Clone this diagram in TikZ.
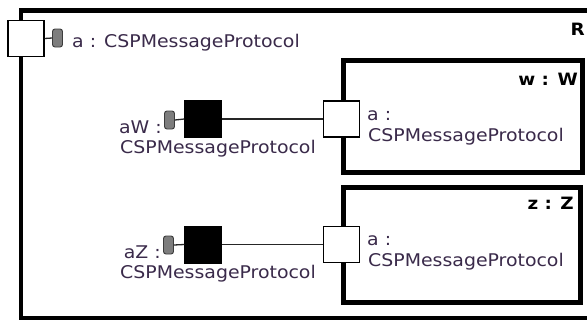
\documentclass[tikz,border=0pt]{standalone}
\usepackage{fontspec}
\setmainfont[FakeStretch=1.08]{DejaVu Sans}
\definecolor{txtc}{RGB}{58,42,74}
\definecolor{ifgray}{RGB}{125,125,125}
\definecolor{ifedge}{RGB}{60,60,60}
\begin{document}
\begin{tikzpicture}[x=1pt,y=-1pt,
  lbl/.style={inner sep=0pt,text=txtc,font=\fontsize{17.5}{21}\selectfont},
  title/.style={inner sep=0pt,text=black,font=\fontsize{17}{20}\selectfont\bfseries},
  part/.style={draw=black,line width=5pt,fill=white,inner sep=0pt},
  port/.style={draw=black,line width=1.1pt,fill=white,inner sep=0pt,minimum size=36pt},
  relay/.style={draw=black,fill=black,inner sep=0pt,minimum size=37pt},
  iface/.style={draw=ifedge,line width=0.9pt,fill=ifgray,rounded corners=2.5pt,
                inner sep=0pt,minimum width=10pt,minimum height=18pt},
  wire/.style={draw=black!85,line width=1.3pt}]
\useasboundingbox[fill=white] (0,0) rectangle (587,322);

% enclosing structure R (open to the right)
\draw[line width=4.5pt] (590,10.5) -- (21,10.5) -- (21,318) -- (590,318);
\node[title,anchor=base east] (rname) at (585,35) {R};

% parts w and z
\node[part,minimum width=239pt,minimum height=111.5pt] (partw) at (462.5,116.25) {};
\node[part,minimum width=237pt,minimum height=115pt] (partz) at (461.5,245) {};
\node[title,anchor=base east] (wname) at (578,85) {w : W};
\node[title,anchor=base east] (zname) at (574,209) {z : Z};

% boundary port a of R
\node[port] (pa) at (26,38.5) {};
\node[iface] (ia) at (57.5,38) {};
\draw[wire] (pa.east) -- (ia.west);
\node[lbl,anchor=base west] (la) at (72,47) {a : CSPMessageProtocol};

% ports of w and z
\node[port] (pw) at (341.5,119) {};
\node[port] (pz) at (341.5,244.5) {};
\node[lbl,anchor=base west] (lpw1) at (367,120) {a :};
\node[lbl,anchor=base west] (lpw2) at (368,141) {CSPMessageProtocol};
\node[lbl,anchor=base west] (lpz1) at (367,245) {a :};
\node[lbl,anchor=base west] (lpz2) at (368,266) {CSPMessageProtocol};

% relay ports aW and aZ
\node[relay] (rw) at (203,119) {};
\node[relay] (rz) at (203,244.5) {};
\node[iface] (iw) at (169.5,120) {};
\node[iface] (iz) at (168.5,245) {};
\draw[wire] (iw.east) -- (rw.west);
\draw[wire] (iz.east) -- (rz.west);
\draw[wire] (rw.east) -- (pw.west);
\draw[wire] (rz.east) -- (pz.west);
\node[lbl,anchor=base east] (lw1) at (162,133) {aW :};
\node[lbl,anchor=base west] (lw2) at (120,153) {CSPMessageProtocol};
\node[lbl,anchor=base east] (lz1) at (161,258) {aZ :};
\node[lbl,anchor=base west] (lz2) at (120,278) {CSPMessageProtocol};
\end{tikzpicture}
\end{document}
